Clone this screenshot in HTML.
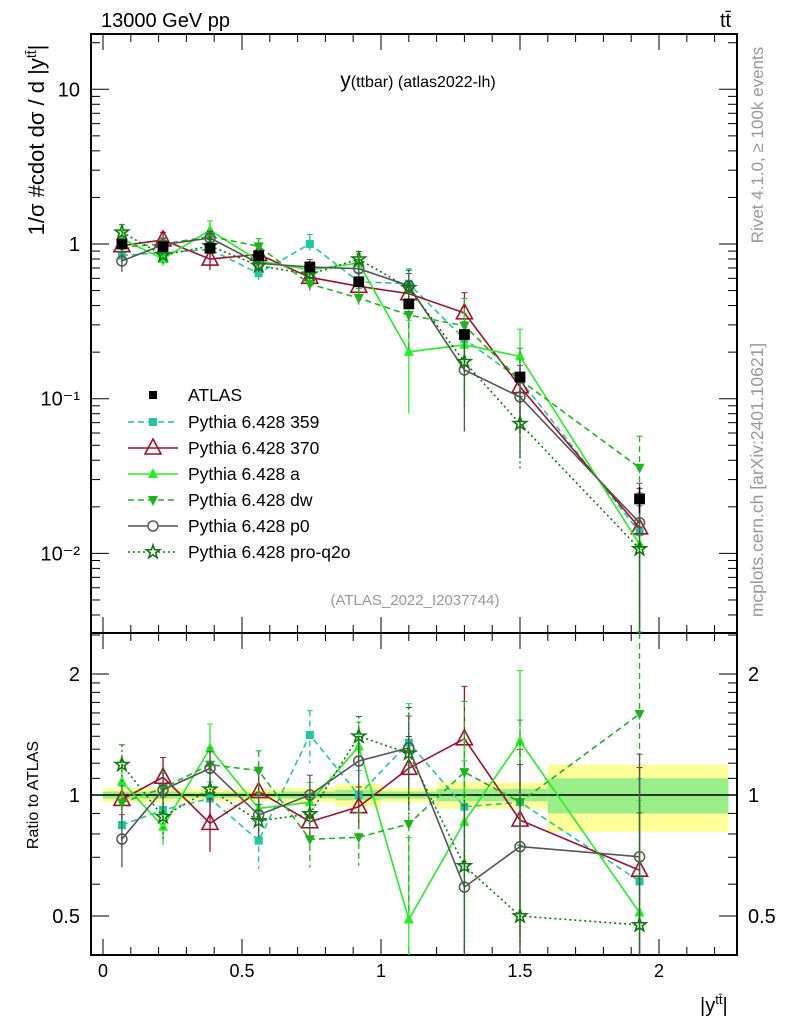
<!DOCTYPE html>
<html><head><meta charset="utf-8">
<style>
body{margin:0;background:#fff;}
svg{display:block;font-family:"Liberation Sans",sans-serif;}
</style></head>
<body>
<svg id="chart" width="786" height="1024" viewBox="0 0 786 1024" xmlns="http://www.w3.org/2000/svg">
<rect width="786" height="1024" fill="#fff"/>
<g id="bands"></g>
<g id="axes"></g>
<g id="series"></g>
<text x="101" y="27" font-size="20">13000 GeV pp</text>
<text x="720" y="27" font-size="20">tt̄</text>
<text x="418" y="87" font-size="21" text-anchor="middle">y<tspan font-size="16">(ttbar) (atlas2022-lh)</tspan></text>
<text x="415" y="605" font-size="15" fill="#999" text-anchor="middle">(ATLAS_2022_I2037744)</text>
<text transform="translate(44,140) rotate(-90)" font-size="22" text-anchor="middle">1/σ #cdot dσ / d |y<tspan dy="-8" font-size="14">tt̄</tspan><tspan dy="8">|</tspan></text>
<text transform="translate(38,795) rotate(-90)" font-size="16" text-anchor="middle">Ratio to ATLAS</text>
<text x="700" y="1012" font-size="20">|y<tspan dy="-8" font-size="13">tt̄</tspan><tspan dy="8">|</tspan></text>
<text transform="translate(763,145) rotate(-90)" font-size="17" fill="#999" text-anchor="middle">Rivet 4.1.0, ≥ 100k events</text>
<text transform="translate(763,480) rotate(-90)" font-size="17.5" fill="#999" text-anchor="middle">mcplots.cern.ch [arXiv:2401.10621]</text>
<g id="legend"></g>
</svg>
<script>
const edges=[0,0.14,0.28,0.48,0.64,0.835,1.0,1.2,1.4,1.6,2.25];
const xs=[0.068,0.216,0.385,0.56,0.744,0.92,1.10,1.30,1.50,1.93];
const atlas=[1.0,0.96,0.94,0.84,0.71,0.57,0.41,0.26,0.138,0.0225];
const bandYellow=[0.04,0.04,0.035,0.035,0.04,0.065,0.04,0.075,0.075,0.19];
const bandGreen=[0.02,0.02,0.015,0.015,0.02,0.03,0.02,0.035,0.035,0.1];
const r359=[0.842,0.918,0.98,0.77,1.41,1.0,1.35,0.935,0.96,0.61];
const r370=[0.975,1.107,0.85,1.02,0.858,0.935,1.165,1.38,0.866,0.65];
const rA=[1.08,0.834,1.306,0.926,0.959,1.32,0.49,0.858,1.36,0.51];
const rDW=[0.957,1.04,1.19,1.15,0.776,0.785,0.847,1.14,0.96,1.59];
const rP0=[0.777,1.03,1.165,0.892,1.0,1.215,1.31,0.59,0.744,0.702];
const rPRO=[1.19,0.883,1.033,0.862,0.897,1.40,1.27,0.666,0.50,0.475];
const e359=[0.12,0.1,0.1,0.15,0.15,0.15,0.25,0.3,0.4,0.8];
const e370=[0.1,0.12,0.15,0.12,0.12,0.12,0.2,0.35,0.5,0.8];
const eA=[0.12,0.1,0.15,0.1,0.12,0.15,0.6,0.6,0.5,0.9];
const eDW=[0.1,0.1,0.1,0.12,0.15,0.15,0.4,0.5,0.6,0.6];
const eP0=[0.15,0.1,0.1,0.12,0.12,0.15,0.2,0.6,0.6,0.8];
const ePRO=[0.12,0.12,0.1,0.1,0.1,0.12,0.3,0.5,0.5,0.9];
const names=["Pythia 6.428 359","Pythia 6.428 370","Pythia 6.428 a","Pythia 6.428 dw","Pythia 6.428 p0","Pythia 6.428 pro-q2o"];

const NS="http://www.w3.org/2000/svg";
const L=91,R=737,T=34,M=633,B=955;
const X=v=>103+278*v;
const Y=v=>244-154.7*Math.log10(v);
const RY=v=>795-402*Math.log10(v);
function el(tag,attrs,parent){const e=document.createElementNS(NS,tag);for(const k in attrs)e.setAttribute(k,attrs[k]);parent.appendChild(e);return e;}
const clamp=(v,a,b)=>Math.max(a,Math.min(b,v));

const bg=document.getElementById('bands');
for(let i=0;i<10;i++){
  const x1=X(edges[i]),x2=X(edges[i+1]);
  let r=el('rect',{x:x1,y:RY(1+bandYellow[i]),width:x2-x1,height:RY(1-bandYellow[i])-RY(1+bandYellow[i]),fill:'#ffff99'},bg);
  
  
  r=el('rect',{x:x1,y:RY(1+bandGreen[i]),width:x2-x1,height:RY(1-bandGreen[i])-RY(1+bandGreen[i]),fill:'#99ee88'},bg);
  
  
}

const ax=document.getElementById('axes');
let f=el('rect',{x:L,y:T,width:R-L,height:M-T,fill:'none',stroke:'#000','stroke-width':2},ax);


f=el('rect',{x:L,y:M,width:R-L,height:B-M,fill:'none',stroke:'#000','stroke-width':2},ax);


let ln=el('line',{x1:L,x2:R,y1:RY(1),y2:RY(1),stroke:'#000','stroke-width':1.5},ax);


for(let k=0;k<=22;k++){
  const v=k/10,x=X(v),maj=k%5==0,len=maj?16:8;
  for(const [y0,dir] of [[T,1],[M,-1],[M,1],[B,-1]]){
    el('line',{x1:x,x2:x,y1:y0,y2:y0+dir*len,stroke:'#000','stroke-width':1},ax);
  }
  if(maj){
    const t=el('text',{x:x,y:977,'font-size':18,'text-anchor':'middle'},ax);
    t.textContent=[0,0.5,1,1.5,2][k/5];
    
    
  }
}
const ylabels=[[10,"10"],[1,"1"],[0.1,"10⁻¹"],[0.01,"10⁻²"]];
for(let d=-3;d<=1;d++){for(let m=1;m<=9;m++){
  const v=m*Math.pow(10,d),y=Y(v);if(y<T||y>M)continue;
  const len=m==1?18:9;
  el('line',{x1:L,x2:L+len,y1:y,y2:y,stroke:'#000'},ax);
  el('line',{x1:R,x2:R-len,y1:y,y2:y,stroke:'#000'},ax);
}}
for(const [v,s] of ylabels){
  const t=el('text',{x:80,y:Y(v)+7,'font-size':20,'text-anchor':'end'},ax);
  t.textContent=s;
  
  
}
const rt=[0.4,0.5,0.6,0.7,0.8,0.9,1,1.1,1.2,1.3,1.4,1.5,1.6,1.7,1.8,1.9,2,2.5];
for(const v of rt){const y=RY(v);if(y<M||y>B)continue;const maj=(v==0.5||v==1||v==2);const len=maj?18:9;
  el('line',{x1:L,x2:L+len,y1:y,y2:y,stroke:'#000'},ax);
  el('line',{x1:R,x2:R-len,y1:y,y2:y,stroke:'#000'},ax);}
for(const [v,s] of [[2,"2"],[1,"1"],[0.5,"0.5"]]){
  let t=el('text',{x:80,y:RY(v)+7,'font-size':20,'text-anchor':'end'},ax);
  t.textContent=s;
  
  
  t=el('text',{x:748,y:RY(v)+7,'font-size':20},ax);
  t.textContent=s;
  
  
}

function marker(type,x,y,c,p,big){
  const s=big?1.35:1;
  if(type=='sq') return el('rect',{x:x-4*s,y:y-4*s,width:8*s,height:8*s,fill:c},p);
  if(type=='tri') return el('polygon',{points:`${x},${y-9} ${x-8},${y+6} ${x+8},${y+6}`,fill:'none',stroke:c,'stroke-width':1.6},p);
  if(type=='triF') return el('polygon',{points:`${x},${y-6} ${x-5},${y+4} ${x+5},${y+4}`,fill:c},p);
  if(type=='triD') return el('polygon',{points:`${x},${y+6} ${x-5},${y-4} ${x+5},${y-4}`,fill:c},p);
  if(type=='circ') return el('circle',{cx:x,cy:y,r:5,fill:'none',stroke:c,'stroke-width':1.5},p);
  if(type=='star'){let pts=[];for(let i=0;i<10;i++){const a=-Math.PI/2+i*Math.PI/5,rr=i%2?2.8:7;pts.push((x+rr*Math.cos(a)).toFixed(1)+','+(y+rr*Math.sin(a)).toFixed(1));}
    return el('polygon',{points:pts.join(' '),fill:'none',stroke:c,'stroke-width':1.6},p);}
}
const ser=[
 {r:r359,e:e359,c:'#1fc8a0',m:'sq',d:'6,4',key:'pythia-359'},
 {r:r370,e:e370,c:'#a3102e',m:'tri',d:'',key:'pythia-370'},
 {r:rA,e:eA,c:'#22f022',m:'triF',d:'',key:'pythia-a'},
 {r:rDW,e:eDW,c:'#1cb51c',m:'triD',d:'6,4',key:'pythia-dw'},
 {r:rP0,e:eP0,c:'#555555',m:'circ',d:'',key:'pythia-p0'},
 {r:rPRO,e:ePRO,c:'#0d7a0d',m:'star',d:'2,3',key:'pythia-pro-q2o'}
];
const sg=document.getElementById('series');
ser.forEach((s)=>{
  const g=el('g',{},sg);
  
  
  const mainPts=[],ratPts=[];
  for(let i=0;i<10;i++){
    const v=s.r[i]*atlas[i],x=X(xs[i]);
    mainPts.push(x+','+Y(v));ratPts.push(x+','+RY(s.r[i]));
    const hi=v*(1+s.e[i]),lo=Math.max(v*(1-s.e[i]),1e-4);
    const ea={stroke:s.c,'stroke-width':1.3};if(s.d)ea['stroke-dasharray']=s.d;
    el('line',Object.assign({x1:x,x2:x,y1:clamp(Y(hi),T,M),y2:clamp(Y(lo),T,M)},ea),g);
    el('line',Object.assign({x1:x,x2:x,y1:clamp(RY(s.r[i]*(1+s.e[i])),M,B),y2:clamp(RY(Math.max(s.r[i]*(1-s.e[i]),0.01)),M,B)},ea),g);
    for(const yy of [Y(hi),RY(s.r[i]*(1+s.e[i]))]) if(yy>T&&yy<B) el('line',{x1:x-3,x2:x+3,y1:yy,y2:yy,stroke:s.c},g);
  }
  const la={fill:'none',stroke:s.c,'stroke-width':1.6};if(s.d)la['stroke-dasharray']=s.d;
  let pl=el('polyline',Object.assign({points:mainPts.join(' ')},la),g);
  
  
  pl=el('polyline',Object.assign({points:ratPts.join(' ')},la),g);
  
  
  for(let i=0;i<10;i++){
    const v=s.r[i]*atlas[i],x=X(xs[i]);
    let mk=marker(s.m,x,Y(v),s.c,g);
    
    
    mk=marker(s.m,x,RY(s.r[i]),s.c,g);
    
    
  }
});
const ag=el('g',{},sg);


for(let i=0;i<10;i++){
  const x=X(xs[i]),y=Y(atlas[i]);
  el('line',{x1:x,x2:x,y1:Y(atlas[i]*(1+bandYellow[i])),y2:Y(atlas[i]*(1-bandYellow[i])),stroke:'#000','stroke-width':1.3},ag);
  const mk=marker('sq',x,y,'#000',ag,true);
  
  
}
const lg=document.getElementById('legend');
const rows=[395,422,448,474,500,526,552];
let mk=marker('sq',153,rows[0],'#000',lg,false);


let tx=el('text',{x:188,y:rows[0]+6,'font-size':17.5},lg);
tx.textContent='ATLAS';


ser.forEach((s,i)=>{
  const y=rows[i+1];
  const la={stroke:s.c,'stroke-width':1.6};if(s.d)la['stroke-dasharray']=s.d;
  el('line',Object.assign({x1:128,x2:178,y1:y,y2:y},la),lg);
  const m=marker(s.m,153,y,s.c,lg);
  if(s.m!='tri')m.setAttribute('fill',s.m=='circ'||s.m=='star'?'#fff':s.c);
  
  
  const t=el('text',{x:188,y:y+6,'font-size':17.5},lg);
  t.textContent=names[i];
  
  
});
</script>
</body></html>
